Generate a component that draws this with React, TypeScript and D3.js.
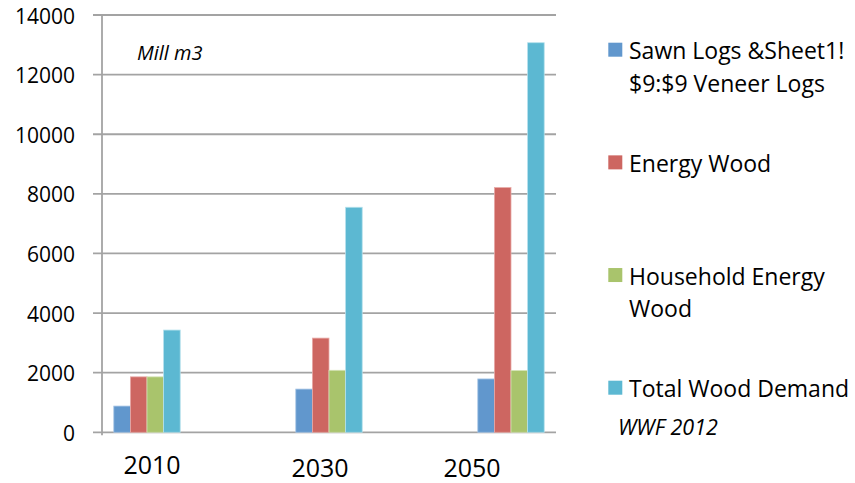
import React from "react";
import * as d3 from "d3";

// Wood demand by year, million m3
const years = ["2010", "2030", "2050"];
const seriesNames = [
  "Sawn Logs &Sheet1!$9:$9 Veneer Logs",
  "Energy Wood",
  "Household Energy Wood",
  "Total Wood Demand",
];
const sawnLogs = [880, 1450, 1790];
const energyWood = [1860, 3160, 8210];
const householdEnergyWood = [1860, 2080, 2070];
const totalWoodDemand = [3430, 7550, 13070];
const legendLines = [
  ["Sawn Logs &Sheet1!", "$9:$9 Veneer Logs"],
  ["Energy Wood"],
  ["Household Energy", "Wood"],
  ["Total Wood Demand"],
];
const yTicks = [0, 2000, 4000, 6000, 8000, 10000, 12000, 14000];

const seriesValues = [sawnLogs, energyWood, householdEnergyWood, totalWoodDemand];
const colors = ["#6197cd", "#cd6661", "#a9c46c", "#5cb8d2"];
const edgeColors = ["#a9c6e6", "#e8aaa7", "#d3e2b4", "#b4e0ec"];

const W = 855;
const H = 483;
const FONT = "'Open Sans', sans-serif";

export default function App() {
  const y = d3.scaleLinear().domain([0, 14000]).range([432.3, 15]);
  const plotLeft = 102;
  const plotRight = 556;

  // category bands; each group of four bars sits in the middle of its band
  const x = d3.scaleBand<string>().domain(years).range([56, 602]).padding(0);
  const groupWidth = x.bandwidth() * 0.365;
  const xs = d3
    .scaleBand<string>()
    .domain(seriesNames)
    .range([0, groupWidth])
    .padding(0);

  const labelX = d3.scaleOrdinal<string, number>().domain(years).range([152, 320, 472]);
  const labelY = d3.scaleOrdinal<string, number>().domain(years).range([474, 477, 477]);

  const legendY = d3.scaleLinear().domain([0, 3]).range([42.7, 380.7]);

  return (
    <svg
      width={W}
      height={H}
      style={{ position: "absolute", left: 0, top: 0, background: "#fff" }}
      fontFamily={FONT}
    >
      {/* gridlines with outward ticks */}
      {yTicks.map((t) => (
        <line
          key={"g" + t}
          x1={93}
          x2={plotRight}
          y1={y(t)}
          y2={y(t)}
          stroke="#a3a3a3"
          strokeWidth={1.8}
        />
      ))}
      {/* value axis */}
      <line
        x1={plotLeft}
        x2={plotLeft}
        y1={y(14000)}
        y2={y(0) + 3}
        stroke="#a3a3a3"
        strokeWidth={1.8}
      />
      {yTicks.map((t) => (
        <text
          key={"t" + t}
          x={75}
          y={y(t) + 3}
          textAnchor="end"
          dominantBaseline="middle"
          fontSize={21}
          fill="#000"
        >
          {t}
        </text>
      ))}

      {/* bars */}
      {years.map((yr, i) => (
        <g
          key={yr}
          transform={`translate(${(x(yr) ?? 0) + (x.bandwidth() - groupWidth) / 2},0)`}
        >
          {seriesNames.map((s, j) => {
            const v = seriesValues[j][i];
            return (
              <rect
                key={s}
                x={xs(s)}
                y={y(v)}
                width={xs.bandwidth()}
                height={y(0) - y(v)}
                fill={colors[j]}
                stroke={edgeColors[j]}
                strokeWidth={0.8}
              />
            );
          })}
        </g>
      ))}

      {/* category labels */}
      {years.map((yr) => (
        <text
          key={"c" + yr}
          x={labelX(yr)}
          y={labelY(yr)}
          textAnchor="middle"
          fontSize={25}
          fill="#000"
        >
          {yr}
        </text>
      ))}

      <text x={137} y={60} fontSize={20} fontStyle="italic" fill="#000">
        Mill m3
      </text>

      {/* legend */}
      {seriesNames.map((s, j) => {
        const top = legendY(j);
        return (
          <g key={"l" + s}>
            <rect x={608.3} y={top} width={14} height={14} fill={colors[j]} />
            {legendLines[j].map((line, k) => (
              <text
                key={k}
                x={629}
                y={top + 16.5 + k * 32.5}
                fontSize={23}
                fill="#000"
              >
                {line}
              </text>
            ))}
          </g>
        );
      })}

      <text x={618} y={435} fontSize={21.5} fontStyle="italic" fill="#000">
        WWF 2012
      </text>
    </svg>
  );
}
